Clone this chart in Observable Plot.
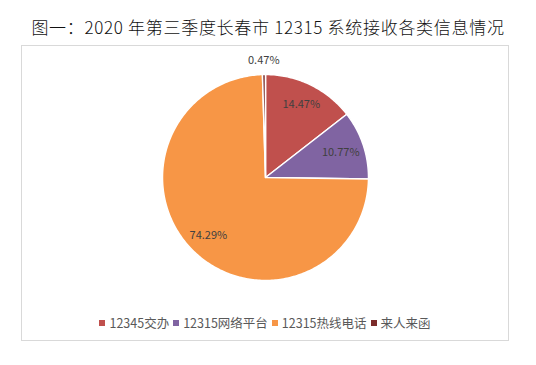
<!DOCTYPE html>
<html><head><meta charset="utf-8">
<script src="https://cdn.jsdelivr.net/npm/d3@7"></script>
<script src="https://cdn.jsdelivr.net/npm/@observablehq/plot@0.6"></script>
<style>
body{margin:0;background:#fff;width:536px;height:365px;position:relative;font-family:"Noto Sans CJK SC",sans-serif;}
#title{position:absolute;left:0;width:536px;top:14px;text-align:center;font-size:17px;letter-spacing:0.7px;color:#111;font-family:"Noto Sans CJK SC",serif;font-weight:300;white-space:nowrap;}
#frame{position:absolute;left:21px;top:45px;width:486px;height:294px;border:1px solid #d9d9d9;}
#chart{position:absolute;left:0;top:0;}
#legend{position:absolute;left:0;width:486px;top:267px;display:flex;justify-content:center;font-size:12.5px;color:#595959;}
#legend span.item{display:flex;align-items:center;margin:0 2px;}
#legend span.sw{display:inline-block;width:6px;height:6px;margin-right:4px;}
</style></head>
<body>
<div id="title">图一：2020 年第三季度长春市 12315 系统接收各类信息情况</div>
<div id="frame"><div id="chart"></div><div id="legend"></div></div>
<script>
const categories = ["12345交办", "12315网络平台", "12315热线电话", "来人来函"];
const values = [14.47, 10.77, 74.29, 0.47];
const colors = ["#C0504D", "#8064A2", "#F79646", "#7B2C2A"];

const W = 486, H = 262, R = 103, cx = 243, cy = 131;
const pie = d3.pie().sort(null).value(d => d.value)(categories.map((c, i) => ({cat: c, value: values[i]})));

// polygon vertices in unit-radius data space
const pts = [];
pie.forEach(s => {
  const n = Math.max(2, Math.ceil((s.endAngle - s.startAngle) * 60));
  pts.push({cat: s.data.cat, x: 0, y: 0});
  for (let k = 0; k <= n; k++) {
    const a = s.startAngle + (s.endAngle - s.startAngle) * k / n;
    pts.push({cat: s.data.cat, x: Math.sin(a), y: Math.cos(a)});
  }
  pts.push({cat: s.data.cat, x: 0, y: 0});
});
const labelR = [0.79, 0.77, 0.79, 1.14];
const labs = pie.map((s, i) => {
  const a = (s.startAngle + s.endAngle) / 2;
  return {x: Math.sin(a) * labelR[i], y: Math.cos(a) * labelR[i], text: s.data.value.toFixed(2) + "%"};
});

const chart = Plot.plot({
  width: W, height: H, margin: 0,
  x: {domain: [-cx / R, (W - cx) / R], axis: null},
  y: {domain: [-(H - cy) / R, cy / R], axis: null},
  color: {domain: categories, range: colors},
  style: {background: "transparent"},
  marks: [
    Plot.line(pts, {x: "x", y: "y", z: "cat", fill: "cat", stroke: "#fff", strokeWidth: 1.5, curve: "linear-closed"}),
    Plot.text(labs, {x: "x", y: "y", text: "text", fill: "#404040", fontSize: 11, fontFamily: "Noto Sans CJK SC, sans-serif"})
  ]
});
document.getElementById("chart").appendChild(chart);

const lg = document.getElementById("legend");
categories.forEach((c, i) => {
  const it = document.createElement("span"); it.className = "item";
  const sw = document.createElement("span"); sw.className = "sw"; sw.style.background = colors[i];
  it.appendChild(sw); it.appendChild(document.createTextNode(c));
  lg.appendChild(it);
});
</script>
</body></html>
